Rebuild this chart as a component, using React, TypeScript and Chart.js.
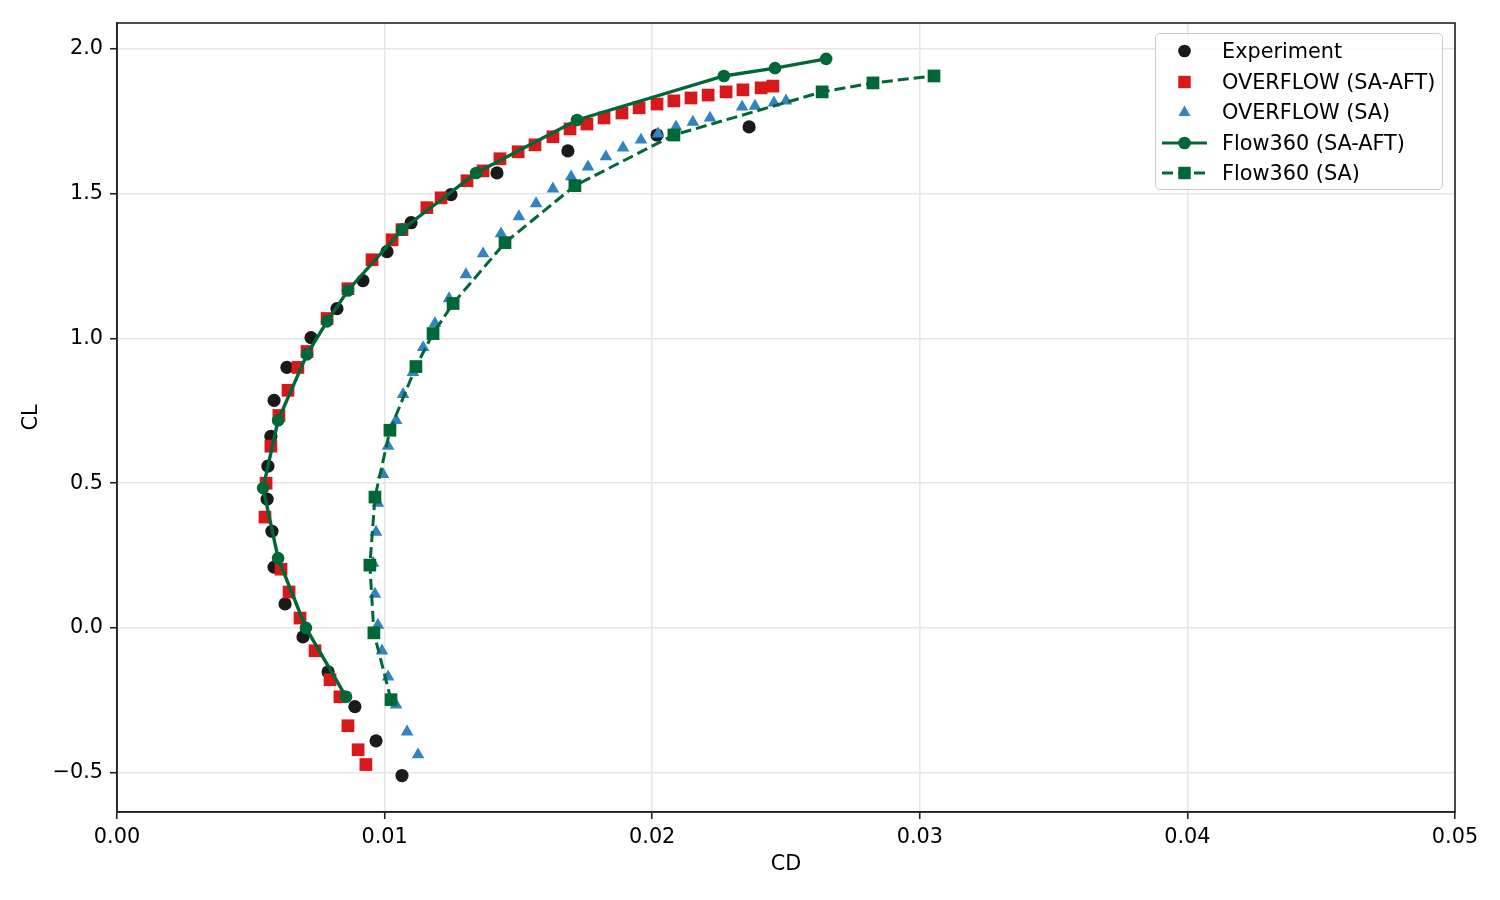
import { useEffect, useRef } from "react";
import { Chart, registerables, type ChartConfiguration, type Plugin } from "chart.js";

Chart.register(...registerables);

// CD / CL polar data
const expCD = [
  0.01065, 0.00968, 0.00889, 0.00789, 0.00695, 0.00628, 0.00587, 0.00579, 0.00561, 0.00564, 0.00575, 0.00587,
  0.00635, 0.00725, 0.00822, 0.00919, 0.01009, 0.01099, 0.01248, 0.0142, 0.01685, 0.02018, 0.02362,
];
const expCL = [
  -0.51, -0.39, -0.272, -0.152, -0.031, 0.083, 0.21, 0.334, 0.445, 0.559, 0.662, 0.786, 0.9, 1.003, 1.103, 1.2,
  1.3, 1.4, 1.497, 1.572, 1.648, 1.703, 1.731,
];

const ovAftCD = [
  0.0093, 0.00901, 0.00863, 0.00833, 0.00796, 0.0074, 0.00684, 0.00643, 0.00613, 0.00553, 0.00557, 0.00575,
  0.00605, 0.00639, 0.00676, 0.0071, 0.00785, 0.00863, 0.00953, 0.01028, 0.01065, 0.01158, 0.01211, 0.01308,
  0.01368, 0.01431, 0.01499, 0.01562, 0.01629, 0.01693, 0.01756, 0.0182, 0.01887, 0.01951, 0.02018, 0.02081,
  0.02145, 0.02209, 0.02276, 0.02339, 0.02407, 0.02451,
];
const ovAftCL = [
  -0.472, -0.421, -0.338, -0.238, -0.179, -0.079, 0.034, 0.124, 0.203, 0.383, 0.5, 0.628, 0.734, 0.821, 0.9,
  0.955, 1.069, 1.172, 1.272, 1.341, 1.376, 1.452, 1.486, 1.545, 1.579, 1.621, 1.645, 1.669, 1.697, 1.724, 1.741,
  1.762, 1.779, 1.797, 1.81, 1.821, 1.831, 1.841, 1.852, 1.859, 1.866, 1.872,
];

const ovSaCD = [
  0.01125, 0.01084, 0.01043, 0.01013, 0.0099, 0.00975, 0.00964, 0.00957, 0.00968, 0.00975, 0.00994, 0.01013,
  0.01043, 0.01069, 0.01106, 0.01144, 0.01188, 0.01241, 0.01304, 0.01368, 0.01435, 0.01502, 0.01566, 0.01629,
  0.01697, 0.0176, 0.01827, 0.01891, 0.01958, 0.02022, 0.02089, 0.02152, 0.02216, 0.02336, 0.02384, 0.02455,
  0.025,
];
const ovSaCL = [
  -0.438, -0.359, -0.266, -0.169, -0.079, 0.01, 0.117, 0.224, 0.331, 0.431, 0.531, 0.628, 0.717, 0.807, 0.883,
  0.969, 1.052, 1.138, 1.221, 1.293, 1.362, 1.421, 1.466, 1.517, 1.559, 1.593, 1.628, 1.659, 1.686, 1.707, 1.731,
  1.748, 1.762, 1.8, 1.803, 1.814, 1.821,
];

const f360AftCD = [
  0.00856, 0.00706, 0.00602, 0.00546, 0.00602, 0.0071, 0.00785, 0.00863, 0.01065, 0.01342, 0.01719, 0.02268,
  0.02459, 0.0265,
];
const f360AftCL = [-0.238, 0.0, 0.241, 0.483, 0.717, 0.945, 1.059, 1.166, 1.376, 1.572, 1.755, 1.907, 1.934, 1.966];

const f360SaCD = [
  0.01024, 0.0096, 0.00945, 0.00964, 0.0102, 0.01117, 0.01181, 0.01256, 0.0145, 0.01711, 0.02081, 0.02635,
  0.02825, 0.03053,
];
const f360SaCL = [-0.248, -0.017, 0.217, 0.452, 0.683, 0.903, 1.017, 1.121, 1.331, 1.528, 1.703, 1.852, 1.883, 1.907];

const xTicks = [0, 0.01, 0.02, 0.03, 0.04, 0.05];
const yTicks = [-0.5, 0, 0.5, 1, 1.5, 2];

const BLACK = "#1a1a1a";
const RED = "#d7191c";
const BLUE = "#3383c0";
const GREEN = "#006837";
const FONT = "'DejaVu Sans', sans-serif";
const FS = 20.8;

const pts = (xs: number[], ys: number[]) => xs.map((x, i) => ({ x, y: ys[i] }));

// matplotlib-style box round the plot area
const framePlugin: Plugin<"scatter"> = {
  id: "frame",
  afterDatasetsDraw(chart) {
    const { ctx, chartArea: a } = chart;
    ctx.save();
    ctx.strokeStyle = "#222";
    ctx.lineWidth = 1.6;
    ctx.strokeRect(a.left, a.top, a.right - a.left, a.bottom - a.top);
    ctx.restore();
  },
};

const legendRows = [
  { label: "Experiment", kind: "circle", color: BLACK, line: "" },
  { label: "OVERFLOW (SA-AFT)", kind: "square", color: RED, line: "" },
  { label: "OVERFLOW (SA)", kind: "triangle", color: BLUE, line: "" },
  { label: "Flow360 (SA-AFT)", kind: "circle", color: GREEN, line: "solid" },
  { label: "Flow360 (SA)", kind: "square", color: GREEN, line: "dashed" },
];

function Marker({ kind, color, line }: { kind: string; color: string; line: string }) {
  const cx = 22.5;
  const cy = 10;
  return (
    <svg width={45} height={20} style={{ display: "block" }}>
      {line && (
        <line
          x1={0}
          y1={cy}
          x2={45}
          y2={cy}
          stroke={color}
          strokeWidth={3.2}
          strokeDasharray={line === "dashed" ? "11 5" : undefined}
        />
      )}
      {kind === "circle" && <circle cx={cx} cy={cy} r={6.3} fill={color} />}
      {kind === "square" && <rect x={cx - 6.2} y={cy - 6.2} width={12.4} height={12.4} fill={color} />}
      {kind === "triangle" && (
        <polygon points={`${cx},${cy - 6.5} ${cx - 6},${cy + 4} ${cx + 6},${cy + 4}`} fill={color} />
      )}
    </svg>
  );
}

export default function App() {
  const canvasRef = useRef<HTMLCanvasElement>(null);
  const chartRef = useRef<Chart | null>(null);

  useEffect(() => {
    document.body.style.margin = "0";
    if (!canvasRef.current) return;

    const tickFont = { family: FONT, size: FS };
    const cfg: ChartConfiguration<"scatter"> = {
      type: "scatter",
      data: {
        datasets: [
          {
            label: "Flow360 (SA-AFT)",
            data: pts(f360AftCD, f360AftCL),
            showLine: true,
            borderColor: GREEN,
            borderWidth: 3.4,
            backgroundColor: GREEN,
            pointStyle: "circle",
            pointRadius: 6.3,
            pointBorderWidth: 0,
            order: 0,
          },
          {
            label: "Flow360 (SA)",
            data: pts(f360SaCD, f360SaCL),
            showLine: true,
            borderColor: GREEN,
            borderWidth: 3,
            borderDash: [11, 5],
            backgroundColor: GREEN,
            pointStyle: "rect",
            pointRadius: 9,
            pointBorderWidth: 0,
            order: 1,
          },
          {
            label: "OVERFLOW (SA)",
            data: pts(ovSaCD, ovSaCL),
            backgroundColor: BLUE,
            pointStyle: "triangle",
            pointRadius: 7.3,
            pointBorderWidth: 0,
            order: 2,
          },
          {
            label: "OVERFLOW (SA-AFT)",
            data: pts(ovAftCD, ovAftCL),
            backgroundColor: RED,
            pointStyle: "rect",
            pointRadius: 9,
            pointBorderWidth: 0,
            order: 3,
          },
          {
            label: "Experiment",
            data: pts(expCD, expCL),
            backgroundColor: BLACK,
            pointStyle: "circle",
            pointRadius: 6.6,
            pointBorderWidth: 0,
            order: 4,
          },
        ],
      },
      options: {
        animation: false,
        responsive: false,
        devicePixelRatio: 1,
        events: [],
        layout: { padding: { top: 23, right: 45, left: 0, bottom: 0 } },
        plugins: { legend: { display: false }, tooltip: { enabled: false } },
        scales: {
          x: {
            type: "linear",
            min: 0,
            max: 0.05,
            afterBuildTicks: (s) => {
              s.ticks = xTicks.map((value) => ({ value }));
            },
            afterFit: (s) => {
              s.height = 88;
            },
            ticks: {
              font: tickFont,
              color: "#000",
              padding: 6,
              maxRotation: 0,
              autoSkip: false,
              callback: (v) => Number(v).toFixed(2),
            },
            grid: { color: "#e6e6e6", lineWidth: 1.5, tickColor: "#222", tickLength: 7, tickWidth: 1.6 },
            border: { color: "#222", width: 1.6 },
            title: { display: true, text: "CD", font: tickFont, color: "#000", padding: { top: 4, bottom: 23 } },
          },
          y: {
            type: "linear",
            min: -0.636,
            max: 2.09,
            afterBuildTicks: (s) => {
              s.ticks = yTicks.map((value) => ({ value }));
            },
            afterFit: (s) => {
              s.width = 117;
            },
            ticks: {
              font: tickFont,
              color: "#000",
              padding: 7,
              autoSkip: false,
              callback: (v) => {
                const n = Number(v);
                return n < 0 ? "\u2212" + Math.abs(n).toFixed(1) : n.toFixed(1);
              },
            },
            grid: { color: "#e6e6e6", lineWidth: 1.5, tickColor: "#222", tickLength: 7, tickWidth: 1.6 },
            border: { color: "#222", width: 1.6 },
            title: { display: true, text: "CL", font: tickFont, color: "#000", padding: { top: 19, bottom: 4 } },
          },
        },
      },
      plugins: [framePlugin],
    };
    chartRef.current = new Chart(canvasRef.current, cfg);
    return () => {
      chartRef.current?.destroy();
      chartRef.current = null;
    };
  }, []);

  return (
    <div style={{ position: "relative", width: 1500, height: 900, background: "#fff" }}>
      <canvas ref={canvasRef} width={1500} height={900} style={{ display: "block" }} />
      <div
        style={{
          position: "absolute",
          left: 1155,
          top: 33,
          width: 288,
          height: 157,
          boxSizing: "border-box",
          border: "1.5px solid #cccccc",
          borderRadius: 5,
          background: "rgba(255,255,255,0.8)",
          fontFamily: FONT,
          fontSize: FS,
          color: "#000",
        }}
      >
        {legendRows.map((r, i) => (
          <div
            key={r.label}
            style={{
              position: "absolute",
              left: 6,
              top: 5 + i * 30.5,
              height: 24,
              display: "flex",
              alignItems: "center",
              whiteSpace: "nowrap",
            }}
          >
            <Marker kind={r.kind} color={r.color} line={r.line} />
            <span style={{ marginLeft: 15, lineHeight: "24px" }}>{r.label}</span>
          </div>
        ))}
      </div>
    </div>
  );
}
